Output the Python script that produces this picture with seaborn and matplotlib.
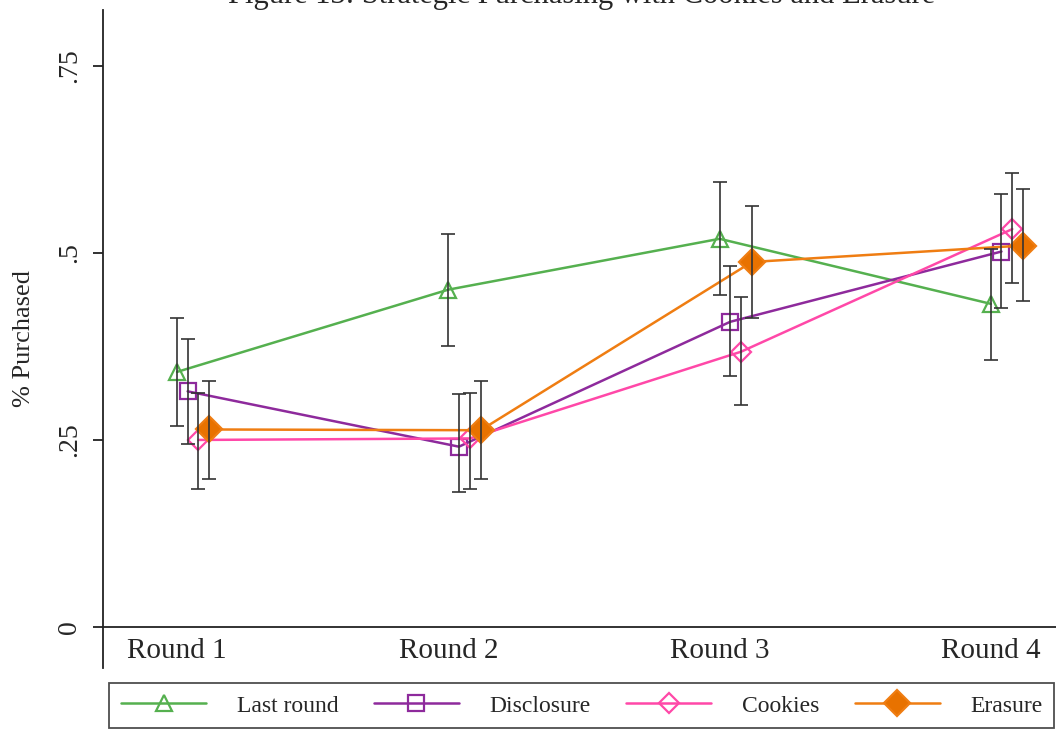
import matplotlib
matplotlib.use('Agg')
import matplotlib.pyplot as plt
import seaborn as sns

# data
rounds = ['Round 1', 'Round 2', 'Round 3', 'Round 4']
series = ['Last round', 'Disclosure', 'Cookies', 'Erasure']

last_round = [0.341, 0.451, 0.519, 0.432]
last_round_lo = [0.269, 0.376, 0.444, 0.357]
last_round_hi = [0.413, 0.525, 0.595, 0.506]

disclosure = [0.315, 0.241, 0.408, 0.502]
disclosure_lo = [0.245, 0.180, 0.335, 0.426]
disclosure_hi = [0.385, 0.311, 0.483, 0.579]

cookies = [0.250, 0.252, 0.368, 0.532]
cookies_lo = [0.185, 0.185, 0.297, 0.460]
cookies_hi = [0.313, 0.313, 0.441, 0.607]

erasure = [0.264, 0.263, 0.488, 0.510]
erasure_lo = [0.198, 0.198, 0.413, 0.436]
erasure_hi = [0.329, 0.329, 0.563, 0.585]

sns.set_style('ticks')
plt.rcParams['font.family'] = ['Liberation Serif', 'DejaVu Serif']
plt.rcParams['axes.linewidth'] = 1.3

fig = plt.figure(figsize=(10.56, 7.33), dpi=100)
ax = fig.add_axes([103 / 1056, 1 - 668 / 733, 1 - 103 / 1056, (668 - 10) / 733])

styles = [
    dict(color='#55b04f', marker='^', mfc='none', ms=11.5),
    dict(color='#8e2a9c', marker='s', mfc='none', ms=11),
    dict(color='#ff48a8', marker='D', mfc='none', ms=10),
    dict(color='#ef7d12', marker='D', mfc='#e87200', ms=13),
]
offsets = [0.0, 0.039, 0.079, 0.119]
values = [last_round, disclosure, cookies, erasure]
lows = [last_round_lo, disclosure_lo, cookies_lo, erasure_lo]
highs = [last_round_hi, disclosure_hi, cookies_hi, erasure_hi]

for name, st, off, vals in zip(series, styles, offsets, values):
    xs = [i + 1 + off for i in range(len(rounds))]
    sns.lineplot(x=xs, y=vals, ax=ax, color=st['color'], marker=st['marker'],
                 markerfacecolor=st['mfc'], markeredgecolor=st['color'],
                 markersize=st['ms'], markeredgewidth=1.6, linewidth=1.8,
                 label=name, zorder=2)

# confidence intervals drawn on top of the markers
for off, vals, lo, hi in zip(offsets, values, lows, highs):
    xs = [i + 1 + off for i in range(len(rounds))]
    err = [[v - l for v, l in zip(vals, lo)], [h - v for v, h in zip(vals, hi)]]
    ax.errorbar(xs, vals, yerr=err, fmt='none', ecolor='#333333', elinewidth=1.4,
                capsize=4.8, capthick=1.4, alpha=0.85, zorder=3)

ax.set_xlim(0.727, 4.24)
ax.set_ylim(-0.055, 0.825)
ax.spines['top'].set_visible(False)
ax.spines['right'].set_visible(False)
ax.spines['bottom'].set_position(('data', 0))
ax.spines['left'].set_color('#222222')
ax.spines['bottom'].set_color('#222222')

ax.set_xticks([1, 2, 3, 4])
ax.set_xticklabels(rounds, fontsize=21)
ax.tick_params(axis='x', length=0, pad=8)
ax.set_yticks([0, 0.25, 0.5, 0.75])
ax.set_yticklabels(['0', '.25', '.5', '.75'], fontsize=20)
ax.tick_params(axis='y', length=7, width=1.3, pad=8, color='#222222')
for lab in ax.get_yticklabels():
    lab.set_rotation(90)
    lab.set_va('center')

ax.set_xlabel('')
ax.set_ylabel('% Purchased', fontsize=19)
ax.yaxis.set_label_coords(-0.071, 0.5)

fig.text(0.551, 1 - 3 / 733, 'Figure 13: Strategic Purchasing with Cookies and Erasure',
         ha='center', va='baseline', fontsize=22)

handles, labels = ax.get_legend_handles_labels()
ax.get_legend().remove()
leg = fig.legend(handles, labels, loc='center', bbox_to_anchor=(0.551, 0.037), ncol=4,
                 fontsize=17, frameon=True, fancybox=False, edgecolor='#222222',
                 handlelength=3.6, handletextpad=1.3, columnspacing=1.5,
                 borderpad=0.5, borderaxespad=0)
leg.get_frame().set_linewidth(1.3)

plt.savefig('out.png', dpi=100)
